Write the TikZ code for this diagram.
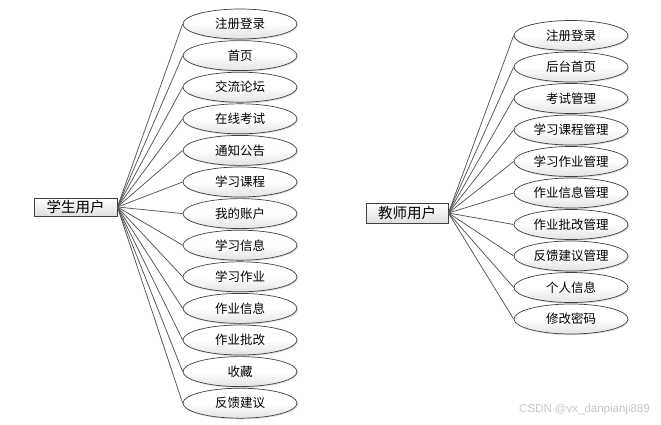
\documentclass[tikz,border=0pt]{standalone}
\usepackage{fontspec}
\setmainfont{Liberation Sans}
\newfontfamily\cjk{Noto Sans CJK SC}
\usetikzlibrary{shapes.geometric,shadows,calc}
\definecolor{edge}{HTML}{555555}
\definecolor{bord}{HTML}{404040}
\tikzset{
  usecase/.style={ellipse, draw=bord, line width=0.7pt, minimum width=114pt, minimum height=30pt,
    inner sep=0pt, top color=white, bottom color=gray!22, middle color=white,
    drop shadow={shadow xshift=1pt, shadow yshift=-1.2pt, opacity=0.25},
    font=\cjk\fontsize{12.5}{14}\selectfont},
  actor/.style={rectangle, draw=bord, line width=0.8pt, inner sep=0pt,
    top color=white, bottom color=gray!25,
    drop shadow={shadow xshift=1.2pt, shadow yshift=-1.2pt, opacity=0.35},
    font=\cjk\fontsize{14.5}{16}\selectfont},
  link/.style={draw=edge, line width=0.75pt}
}
\begin{document}
\begin{tikzpicture}[x=1pt,y=-1pt]
\useasboundingbox (0,0) rectangle (661,424);
% student
\node[actor, minimum width=83pt, minimum height=18pt] (stu) at (75.5,207) {学生用户};
\foreach \t [count=\i from 0] in {注册登录,首页,交流论坛,在线考试,通知公告,学习课程,我的账户,学习信息,学习作业,作业信息,作业批改,收藏,反馈建议}{
  \node[usecase] (s\i) at (240,{24+31.6*\i}) {\t};
}
\foreach \i in {0,...,12}{
  \draw[link] (stu.east) -- (s\i.west);
}
% teacher
\node[actor, minimum width=82pt, minimum height=20pt] (tea) at (407,213) {教师用户};
\foreach \t [count=\i from 0] in {注册登录,后台首页,考试管理,学习课程管理,学习作业管理,作业信息管理,作业批改管理,反馈建议管理,个人信息,修改密码}{
  \node[usecase] (t\i) at (571,{35.5+31.5*\i}) {\t};
}
\foreach \i in {0,...,9}{
  \draw[link] (tea.east) -- (t\i.west);
}
\node[text=gray!45, font=\fontsize{11.5}{13}\selectfont, anchor=east, inner sep=0pt] (wm) at (650,410) {CSDN @vx\_danpianji889};
\end{tikzpicture}
\end{document}
